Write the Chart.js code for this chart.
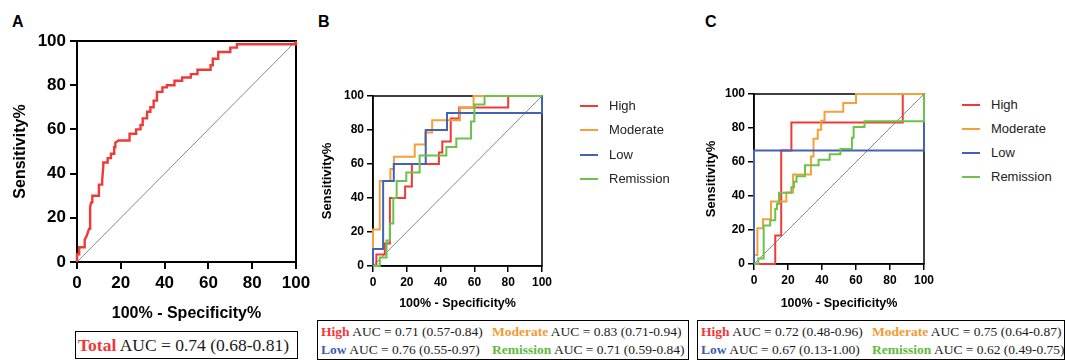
<!DOCTYPE html>
<html>
<head>
<meta charset="utf-8">
<script src="https://cdn.jsdelivr.net/npm/chart.js@4"></script>
<style>
  body { margin: 0; width: 1065px; height: 360px; background: #fff; position: relative; overflow: hidden; font-family: "Liberation Sans", Arial, sans-serif; }
  canvas { position: absolute; }
  .tag { position: absolute; font-weight: bold; font-size: 16px; color: #000; line-height: 16px; }
  .leg { position: absolute; font-size: 13px; color: #222; line-height: 16px; white-space: nowrap; }
  .leg i { position: absolute; left: 0; top: 7px; width: 18px; height: 2px; }
  .leg span { position: absolute; left: 29px; top: 0; }
  .auc { position: absolute; border: 1.5px solid #000; box-sizing: border-box; font-family: "Liberation Serif", "Times New Roman", serif; color: #1a1a1a; white-space: nowrap; }
  .auc div { position: absolute; }
  .auc b { font-weight: bold; }
</style>
</head>
<body>
<div class="tag" style="left:12px;top:14px">A</div>
<div class="tag" style="left:318px;top:14px">B</div>
<div class="tag" style="left:705px;top:14px">C</div>

<canvas id="chartA" width="316" height="330" style="left:0;top:0"></canvas>
<canvas id="chartB" width="270" height="320" style="left:300px;top:0"></canvas>
<canvas id="chartC" width="260" height="320" style="left:690px;top:0"></canvas>

<div id="legendB"></div>
<div id="legendC"></div>

<div class="auc" id="aucA" style="left:75px;top:331px;width:223px;height:28px"></div>
<div class="auc" id="aucB" style="left:317px;top:320px;width:372px;height:40px"></div>
<div class="auc" id="aucC" style="left:697px;top:320px;width:368px;height:40px"></div>

<script>
console.log("ROC figure loaded");

// series names + colours (legend order)
const groups = ["High", "Moderate", "Low", "Remission"];
const groupColors = ["#EF3B36", "#F5A03A", "#4461B5", "#6CC24A"];
const aucLabelColors = ["#F0383A", "#F59A32", "#3D5BB2", "#5FBA3E"];
const xTicks = [0, 20, 40, 60, 80, 100];
const yTicks = [0, 20, 40, 60, 80, 100];

// A - total
const totalX = [0, 0, 1, 1, 3.5, 3.5, 4.5, 5, 5.5, 6, 6, 6.5, 7, 7, 10, 10, 11.5, 11.5, 12, 12, 14, 14, 15.5, 15.5, 17, 17, 17.5, 17.5, 19, 24, 24, 27, 27, 29, 29, 30, 30, 32, 32, 33.5, 33.5, 35, 35, 36.5, 36.5, 39, 39, 41, 41, 44.5, 44.5, 48, 48, 52, 52, 55, 55, 61, 61, 62, 62, 64.5, 64.5, 70, 70, 73, 73, 100, 100];
const totalY = [0, 3.5, 3.5, 6.7, 6.7, 10, 12, 13.5, 15, 15, 25, 27, 27, 30, 30, 35, 35, 37, 43, 45, 45, 47, 47, 49, 49, 52, 52, 54, 55, 55, 58, 58, 60, 60, 62, 62, 65, 65, 68, 68, 70, 70, 73, 73, 77, 77, 79, 79, 80, 80, 82, 82, 83.5, 83.5, 85, 85, 87, 87, 89, 89, 92, 92, 95, 95, 97, 97, 98.5, 98.5, 100];

// B - by group
const bHighX = [0, 2, 2, 7, 7, 10, 10, 19, 19, 23, 23, 39, 39, 41, 41, 46, 46, 51, 51, 80, 80, 100];
const bHighY = [0, 0, 6.7, 6.7, 13.3, 13.3, 40, 40, 46.7, 46.7, 60, 60, 66.7, 66.7, 73.3, 73.3, 86.7, 86.7, 93.3, 93.3, 100, 100];
const bModX = [0, 0, 4, 4, 10.3, 10.3, 12.4, 12.4, 24.7, 24.7, 31, 31, 35, 35, 51.5, 51.5, 59.5, 59.5, 100];
const bModY = [0, 21.4, 21.4, 50, 50, 57.1, 57.1, 64.3, 64.3, 71.4, 71.4, 78.6, 78.6, 85.7, 85.7, 92.9, 92.9, 100, 100];
const bLowX = [0, 0, 6, 6, 12.3, 12.3, 31.2, 31.2, 43.8, 43.8, 100, 100];
const bLowY = [0, 10, 10, 50, 50, 60, 60, 80, 80, 90, 90, 100];
const bRemX = [0, 4, 4, 8, 8, 10, 10, 12, 12, 14, 14, 19.7, 19.7, 27.6, 27.6, 43.4, 43.4, 49.3, 49.3, 58, 58, 60, 60, 66, 66, 100];
const bRemY = [0, 0, 5, 5, 15, 15, 25, 25, 40, 40, 50, 50, 55, 55, 65, 65, 70, 70, 75, 75, 85, 85, 95, 95, 100, 100];

// C - by group
const cHighX = [0, 12.5, 12.5, 16, 16, 22, 22, 87.5, 87.5, 100];
const cHighY = [0, 0, 16.7, 16.7, 66.7, 66.7, 83.3, 83.3, 100, 100];
const cModX = [0, 0, 2, 2, 5.3, 5.3, 10, 10, 19, 19, 23, 23, 33.5, 33.5, 35, 35, 37.5, 37.5, 39.5, 39.5, 41.5, 41.5, 52.5, 52.5, 60, 60, 100];
const cModY = [0, 5.3, 5.3, 21.1, 21.1, 26.3, 26.3, 36.8, 36.8, 42.1, 42.1, 52.6, 52.6, 63.2, 63.2, 73.7, 73.7, 78.9, 78.9, 84.2, 84.2, 89.5, 89.5, 94.7, 94.7, 100, 100];
const cLowX = [0, 0, 100, 100];
const cLowY = [0, 66.7, 66.7, 100];
const cRemX = [0, 2.5, 2.5, 5.7, 5.7, 9.5, 9.5, 12.5, 12.5, 13.5, 13.5, 14.7, 14.7, 22, 22, 23.5, 23.5, 25, 25, 30, 30, 38, 38, 44.5, 44.5, 50.8, 50.8, 57.6, 57.6, 58.6, 58.6, 65, 65, 100, 100];
const cRemY = [0, 0, 3.2, 3.2, 22.6, 22.6, 25.8, 25.8, 32.3, 32.3, 35.5, 35.5, 41.9, 41.9, 45.2, 45.2, 48.4, 48.4, 51.6, 51.6, 58.1, 58.1, 61.3, 61.3, 64.5, 64.5, 67.7, 67.7, 74.2, 74.2, 80.6, 80.6, 83.9, 83.9, 100];

// chance line
const refX = [0, 100];
const refY = [0, 100];

// AUC text
const aucTotal = "AUC = 0.74 (0.68-0.81)";
const aucB = ["AUC = 0.71 (0.57-0.84)", "AUC = 0.83 (0.71-0.94)", "AUC = 0.76 (0.55-0.97)", "AUC = 0.71 (0.59-0.84)"];
const aucC = ["AUC = 0.72 (0.48-0.96)", "AUC = 0.75 (0.64-0.87)", "AUC = 0.67 (0.13-1.00)", "AUC = 0.62 (0.49-0.75)"];

const pts = (xs, ys) => xs.map((x, i) => ({ x: x, y: ys[i] }));

// box round the plot area, drawn under the curves
const framePlugin = {
  id: "frame",
  beforeDatasetsDraw(chart, args, opts) {
    const { ctx, chartArea: a } = chart;
    ctx.save();
    ctx.strokeStyle = "#000";
    ctx.lineWidth = opts.width || 1.5;
    ctx.strokeRect(a.left, a.top, a.right - a.left, a.bottom - a.top);
    ctx.restore();
  }
};

function rocChart(id, datasets, s) {
  const ticksFont = { family: "'Liberation Sans', Arial, sans-serif", weight: "bold", size: s.tickSize };
  return new Chart(document.getElementById(id), {
    type: "line",
    data: { datasets: datasets },
    options: {
      responsive: false,
      animation: false,
      layout: { padding: s.pad },
      elements: { point: { radius: 0 }, line: { tension: 0 } },
      plugins: {
        legend: { display: false },
        tooltip: { enabled: false },
        frame: { width: s.border }
      },
      scales: {
        x: {
          type: "linear", min: 0, max: 100,
          afterBuildTicks: (sc) => { sc.ticks = xTicks.map(v => ({ value: v })); },
          afterFit: (sc) => { sc.height = s.xHeight; },
          ticks: { font: ticksFont, color: "#000", padding: s.xTickPad, maxRotation: 0, autoSkip: false },
          grid: { display: true, drawOnChartArea: false, drawTicks: true, tickLength: s.tickLen, color: "#000", lineWidth: s.border },
          border: { display: true, color: "#000", width: s.border },
          title: { display: true, text: "100% - Specificity%", color: "#000", font: { family: "'Liberation Sans', Arial, sans-serif", weight: "bold", size: s.xTitleSize }, padding: { top: 0, bottom: s.xTitlePad } }
        },
        y: {
          type: "linear", min: 0, max: 100,
          afterBuildTicks: (sc) => { sc.ticks = yTicks.map(v => ({ value: v })); },
          afterFit: (sc) => { sc.width = s.yWidth; },
          ticks: { font: ticksFont, color: "#000", padding: s.yTickPad },
          grid: { display: true, drawOnChartArea: false, drawTicks: true, tickLength: s.tickLen, color: "#000", lineWidth: s.border },
          border: { display: true, color: "#000", width: s.border },
          title: { display: true, text: "Sensitivity%", color: "#000", font: { family: "'Liberation Sans', Arial, sans-serif", weight: "bold", size: s.yTitleSize }, padding: { top: s.yTitlePad, bottom: 0 } }
        }
      }
    },
    plugins: [framePlugin]
  });
}

function refLine() {
  return { label: "ref", data: pts(refX, refY), borderColor: "#555", borderWidth: 0.7, clip: false, order: 9 };
}

function groupSets(xsList, ysList, width) {
  // High drawn first, Remission last (on top)
  return groups.map((g, i) => ({
    label: g,
    data: pts(xsList[i], ysList[i]),
    borderColor: groupColors[i],
    borderWidth: width,
    clip: false,
    order: 4 - i
  }));
}

rocChart("chartA", [
  { label: "Total", data: pts(totalX, totalY), borderColor: "#EF3B36", borderWidth: 2.4, clip: false, order: 1 },
  refLine()
], { pad: { left: 0, top: 41, right: 20, bottom: 0 }, yWidth: 77, xHeight: 68, tickSize: 17, tickLen: 7, xTickPad: 4, yTickPad: 4,
     border: 2, xTitleSize: 16, yTitleSize: 16, xTitlePad: 7, yTitlePad: 11 });

rocChart("chartB",
  groupSets([bHighX, bModX, bLowX, bRemX], [bHighY, bModY, bLowY, bRemY], 2).concat([refLine()]),
  { pad: { left: 0, top: 96, right: 28, bottom: 0 }, yWidth: 73, xHeight: 54, tickSize: 12, tickLen: 6, xTickPad: 3.5, yTickPad: 3,
    border: 1.5, xTitleSize: 12.5, yTitleSize: 13, xTitlePad: 8.5, yTitlePad: 20 });

rocChart("chartC",
  groupSets([cHighX, cModX, cLowX, cRemX], [cHighY, cModY, cLowY, cRemY], 2).concat([refLine()]),
  { pad: { left: 0, top: 94, right: 26, bottom: 0 }, yWidth: 64, xHeight: 56, tickSize: 12, tickLen: 6, xTickPad: 3.5, yTickPad: 3,
    border: 1.5, xTitleSize: 12.5, yTitleSize: 13, xTitlePad: 8.5, yTitlePad: 14 });

// html legends
function buildLegend(elId, left, top, gap) {
  const el = document.getElementById(elId);
  groups.forEach((g, i) => {
    const d = document.createElement("div");
    d.className = "leg";
    d.style.left = left + "px";
    d.style.top = (top + i * gap) + "px";
    d.innerHTML = '<i style="background:' + groupColors[i] + '"></i><span>' + g + "</span>";
    el.appendChild(d);
  });
}
buildLegend("legendB", 580, 98, 24.3);
buildLegend("legendC", 962, 97, 24.1);

// AUC boxes
document.getElementById("aucA").innerHTML =
  '<div style="left:2px;top:2px;font-size:17.5px;line-height:22px"><b style="color:' + aucLabelColors[0] + '">Total</b> ' + aucTotal + "</div>";

function fillAuc(elId, texts, col2) {
  const el = document.getElementById(elId);
  const order = [[0, 0], [1, 1], [2, 0], [3, 1]];
  order.forEach(([i, col]) => {
    const d = document.createElement("div");
    d.style.left = (col === 0 ? 3 : col2) + "px";
    d.style.top = (i < 2 ? 2 : 20) + "px";
    d.style.fontSize = "13.5px";
    d.style.lineHeight = "18px";
    d.innerHTML = '<b style="color:' + aucLabelColors[i] + '">' + groups[i] + "</b> " + texts[i];
    el.appendChild(d);
  });
}
fillAuc("aucB", aucB, 174);
fillAuc("aucC", aucC, 174);
</script>
</body>
</html>
